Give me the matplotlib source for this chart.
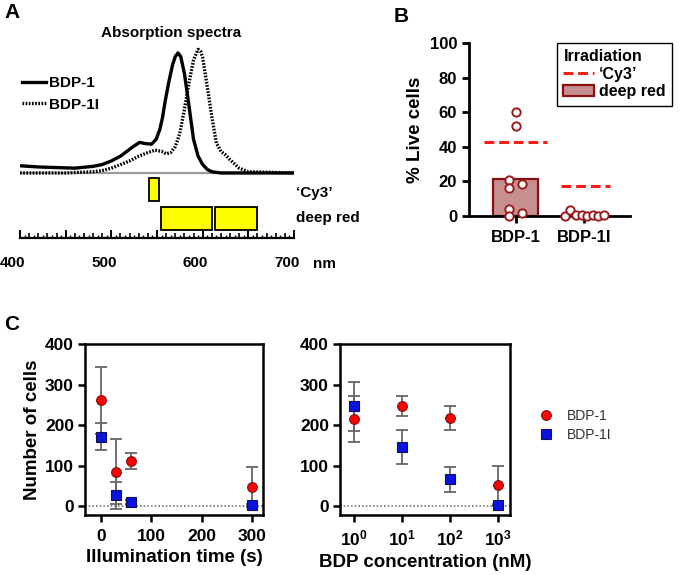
import matplotlib
matplotlib.use('Agg')
import matplotlib.pyplot as plt
from matplotlib.lines import Line2D
from matplotlib.patches import Patch, Rectangle
import matplotlib.ticker as mticker
import matplotlib.transforms as mtransforms

plt.rcParams['font.family'] = ['Liberation Sans', 'DejaVu Sans']
plt.rcParams['font.weight'] = 'bold'
plt.rcParams['mathtext.fontset'] = 'custom'
plt.rcParams['mathtext.rm'] = 'Liberation Sans'
plt.rcParams['mathtext.bf'] = 'Liberation Sans:bold'

# ---- data ----
# A: normalised absorption spectra
wl_bdp1 = [400, 420, 440, 460, 480, 490, 500, 510, 517, 524, 531, 537, 544, 549, 553, 556, 559, 563, 567, 570, 573, 576, 580, 585, 590, 595, 600, 605, 610, 620, 650, 700]
abs_bdp1 = [0.06, 0.05, 0.045, 0.04, 0.055, 0.07, 0.10, 0.14, 0.18, 0.22, 0.255, 0.245, 0.24, 0.28, 0.36, 0.46, 0.6, 0.76, 0.9, 0.97, 1.0, 0.97, 0.83, 0.56, 0.28, 0.14, 0.07, 0.03, 0.01, 0.0, 0.0, 0.0]
wl_bdp1i = [400, 450, 480, 490, 500, 510, 520, 530, 540, 548, 555, 560, 565, 570, 575, 580, 585, 590, 595, 598, 600, 605, 610, 615, 620, 625, 630, 640, 650, 700]
abs_bdp1i = [0.0, 0.0, 0.01, 0.02, 0.04, 0.07, 0.10, 0.14, 0.17, 0.19, 0.18, 0.16, 0.17, 0.22, 0.33, 0.53, 0.75, 0.94, 1.03, 1.01, 0.96, 0.72, 0.47, 0.25, 0.18, 0.15, 0.11, 0.04, 0.01, 0.0]
cy3_band = [(541, 552)]
deep_red_bands = [(554, 610), (613, 659)]

# B: % live cells
b_groups = ['BDP-1', 'BDP-1I']
b_deep_red = [21.4, 0.0]
b_cy3 = [42.8, 17.3]
b1_pts = [60, 52, 21, 16, 18.5, 4, 0, 2]
b1_off = [0, 0, -0.1, -0.1, 0.09, -0.1, -0.1, 0.09]
b1i_pts = [0, 3.5, 0.6, 0.8, 0, 0.8, 0, 0.3]
b1i_off = [-0.28, -0.21, -0.12, -0.03, 0.04, 0.13, 0.21, 0.29]

# C: number of cells
time_s = [0, 30, 60, 300]
t_bdp1 = [261, 85, 111, 47]
t_bdp1_err = [82, 80, 19, 50]
t_bdp1i = [171, 27, 10, 2]
t_bdp1i_err = [33, 33, 5, 3]
conc_nm = [1, 10, 100, 1000]
c_bdp1 = [214, 247, 217, 51]
c_bdp1_err = [57, 25, 29, 49]
c_bdp1i = [246, 145, 66, 2]
c_bdp1i_err = [60, 42, 31, 3]

W, H = 685, 575
def fx(px): return px / W
def fy(py): return 1 - py / H
def box(l, t, r, b): return [fx(l), fy(b), (r - l) / W, (b - t) / H]

fig = plt.figure(figsize=(6.85, 5.75), dpi=100)

# ---------------- Panel A ----------------
ax = fig.add_axes(box(20, 40, 294, 238))
ax.plot([400, 700], [0, 0], color='#999999', lw=1.6, zorder=1)
l1, = ax.plot(wl_bdp1, abs_bdp1, color='black', lw=2.4, solid_joinstyle='round', label='BDP-1', zorder=3)
l2, = ax.plot(wl_bdp1i, abs_bdp1i, color='black', lw=2.4, dashes=(0.5, 0.45), label='BDP-1I', zorder=2)
for a, b in cy3_band:
    ax.add_patch(Rectangle((a, -0.233), b - a, 0.191, facecolor='#ffff00', edgecolor='black', lw=1.3))
for a, b in deep_red_bands:
    ax.add_patch(Rectangle((a, -0.475), b - a, 0.192, facecolor='#ffff00', edgecolor='black', lw=1.3))
ax.set_xlim(400, 700)
ax.set_ylim(-0.542, 1.108)
for s in ['left', 'right', 'top']:
    ax.spines[s].set_visible(False)
ax.spines['bottom'].set_linewidth(1.6)
ax.set_yticks([])
ax.set_xticks(range(400, 701, 10))
ax.set_xticks(range(405, 700, 10), minor=True)
ax.xaxis.set_major_formatter(mticker.FuncFormatter(lambda v, p: f'{int(v)}' if int(round(v)) % 100 == 0 else ''))
ax.tick_params(axis='x', which='major', direction='in', length=3.5, width=1.2, pad=13, labelsize=11)
ax.tick_params(axis='x', which='minor', direction='in', length=2.2, width=1.0)
# labels sit a little left of their ticks in the original
shift = mtransforms.ScaledTranslation(-0.07, 0, fig.dpi_scale_trans)
for lab in ax.get_xticklabels():
    lab.set_transform(lab.get_transform() + shift)
x50 = list(range(400, 701, 50))
ax.plot(x50, [-0.542] * len(x50), ls='none', marker=2, ms=6, mew=1.4, color='black', clip_on=False)
ax.set_title('Absorption spectra', fontsize=11, fontweight='bold', pad=-1, x=0.55)
ax.legend(handles=[l1, l2], loc='upper left', bbox_to_anchor=(fx(22), fy(76)), bbox_transform=fig.transFigure,
          frameon=False, fontsize=11, handlelength=1.6, handletextpad=0.2, labelspacing=0.5, borderpad=0, borderaxespad=0)
fig.text(fx(296), fy(193), '\u2018Cy3\u2019', fontsize=11, va='center', ha='left')
fig.text(fx(296), fy(218), 'deep red', fontsize=11, va='center', ha='left')
fig.text(fx(313), fy(264), 'nm', fontsize=11, va='center', ha='left')

# ---------------- Panel B ----------------
bx = fig.add_axes(box(469, 43, 630, 216))
xpos = [0, 1]
bx.bar(xpos[0], b_deep_red[0], width=0.66, color='#c78f8f', edgecolor='#8b1010', lw=1.6, zorder=2)
for i, v in enumerate(b_cy3):
    w = 0.93 if i == 0 else 0.72
    c = xpos[i] + (0 if i == 0 else 0.03)
    bx.plot([c - w / 2, c + w / 2], [v, v], color='#ff1a1a', lw=2.2, dashes=(3.2, 1.6), zorder=3)
bx.plot([xpos[0] + o for o in b1_off], b1_pts, 'o', ms=6, mfc='white', mec='#9b1c1c', mew=1.4, clip_on=False, zorder=4)
bx.plot([xpos[1] + o for o in b1i_off], b1i_pts, 'o', ms=6, mfc='white', mec='#9b1c1c', mew=1.4, clip_on=False, zorder=4)
bx.set_xlim(-0.69, 1.68)
bx.set_ylim(0, 100)
bx.set_yticks([0, 20, 40, 60, 80, 100])
bx.set_xticks(xpos)
bx.set_xticklabels(b_groups)
for s in ['right', 'top']:
    bx.spines[s].set_visible(False)
for s in ['left', 'bottom']:
    bx.spines[s].set_linewidth(2.0)
bx.tick_params(axis='both', length=5, width=2.0, labelsize=12)
bx.tick_params(axis='x', pad=5)
bx.set_ylabel('% Live cells', fontsize=13.5, fontweight='bold', labelpad=4)
h1 = Line2D([], [], color='#ff1a1a', lw=2.2, dashes=(3.2, 1.6))
h2 = Patch(facecolor='#c78f8f', edgecolor='#8b1010', lw=1.6)
leg = bx.legend([h1, h2], ['\u2018Cy3\u2019', 'deep red'], title='Irradiation', loc='upper left',
                bbox_to_anchor=(fx(557), fy(43)), bbox_transform=fig.transFigure, fontsize=11.5,
                title_fontproperties={'weight': 'bold', 'size': 11.5}, alignment='left',
                fancybox=False, edgecolor='black', framealpha=1, handlelength=1.9, handletextpad=0.35,
                labelspacing=0.15, borderpad=0.4, borderaxespad=0)
leg.get_frame().set_linewidth(1.0)

# ---------------- Panel C ----------------
def style_c(a):
    for s in a.spines.values():
        s.set_linewidth(1.8)
    a.tick_params(axis='both', length=5, width=1.8, labelsize=12.5, pad=3)
    a.tick_params(axis='x', pad=5)
    a.set_ylim(-22, 400)
    a.set_yticks([0, 100, 200, 300, 400])
    a.axhline(0, color='#777777', lw=1.2, ls=(0, (1, 1.2)), zorder=1)

cl = fig.add_axes(box(85, 344, 263, 515))
cl.errorbar(time_s, t_bdp1, yerr=t_bdp1_err, fmt='none', ecolor='#666666', elinewidth=1.3, capsize=4, capthick=1.3, zorder=2)
cl.errorbar(time_s, t_bdp1i, yerr=t_bdp1i_err, fmt='none', ecolor='#666666', elinewidth=1.3, capsize=4, capthick=1.3, zorder=2)
cl.plot(time_s, t_bdp1, 'o', ms=7, mfc='#ff0000', mec='#7a1010', mew=0.8, ls='none', zorder=3)
cl.plot(time_s, t_bdp1i, 's', ms=6.5, mfc='#0a14e0', mec='#101050', mew=0.8, ls='none', zorder=3)
cl.set_xlim(-32, 322)
cl.set_xticks([0, 100, 200, 300])
style_c(cl)
cl.set_xlabel('Illumination time (s)', fontsize=13.5, fontweight='bold', labelpad=4)
cl.set_ylabel('Number of cells', fontsize=13.5, fontweight='bold', labelpad=3)

cr = fig.add_axes(box(340, 344, 510, 515))
cr.set_xscale('log')
cr.errorbar(conc_nm, c_bdp1, yerr=c_bdp1_err, fmt='none', ecolor='#666666', elinewidth=1.3, capsize=4, capthick=1.3, zorder=2)
cr.errorbar(conc_nm, c_bdp1i, yerr=c_bdp1i_err, fmt='none', ecolor='#666666', elinewidth=1.3, capsize=4, capthick=1.3, zorder=2)
m1, = cr.plot(conc_nm, c_bdp1, 'o', ms=7, mfc='#ff0000', mec='#7a1010', mew=0.8, ls='none', zorder=3, label='BDP-1')
m2, = cr.plot(conc_nm, c_bdp1i, 's', ms=6.5, mfc='#0a14e0', mec='#101050', mew=0.8, ls='none', zorder=3, label='BDP-1I')
cr.set_xlim(10 ** -0.29, 10 ** 3.25)
cr.set_xticks(conc_nm)
cr.set_xticklabels([r'$\mathbf{10^{%d}}$' % i for i in range(4)])
cr.xaxis.set_minor_locator(mticker.NullLocator())
style_c(cr)
cr.set_xlabel('BDP concentration (nM)', fontsize=13.5, fontweight='bold', labelpad=4)
fig.legend(handles=[m1, m2], loc='upper left', bbox_to_anchor=(fx(540), fy(409)), frameon=False,
           prop={'size': 10, 'weight': 'normal'}, labelcolor='#333333', handlelength=0.9,
           handletextpad=1.0, labelspacing=0.35, borderpad=0, borderaxespad=0)

# panel letters
fig.text(fx(4), fy(12), 'A', fontsize=15, va='center', ha='left')
fig.text(fx(394), fy(16), 'B', fontsize=15, va='center', ha='left')
fig.text(fx(4), fy(324), 'C', fontsize=15, va='center', ha='left')

fig.savefig('out.png', dpi=100)
